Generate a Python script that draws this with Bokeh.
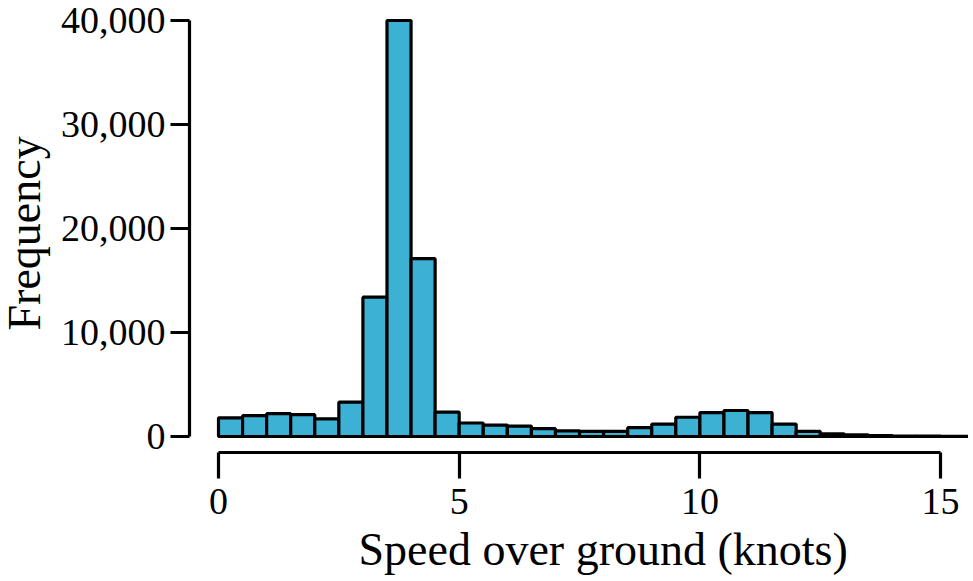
from bokeh.embed import file_html
from bokeh.models import FixedTicker, NumeralTickFormatter, Title
from bokeh.plotting import figure
from bokeh.resources import INLINE

# histogram bins, 0.5 knot wide
bin_left = [i * 0.5 for i in range(32)]
bin_right = [i * 0.5 + 0.5 for i in range(32)]
counts = [1800, 2000, 2200, 2100, 1700, 3300, 13400, 40000, 17100, 2350,
          1300, 1100, 1000, 750, 550, 500, 500, 850, 1200, 1850,
          2300, 2500, 2300, 1200, 500, 250, 150, 80, 50, 40, 20, 10]
x_ticks = [0, 5, 10, 15]
y_ticks = [0, 10000, 20000, 30000, 40000]

FONT = "Liberation Serif"
BLUE = "#3cb1d4"
LW = 3.2

# the y title box has blank padding on its outer side, so the figure hangs
# 12px off the left of the page to get the text close to the edge
p = figure(width=980, height=580, output_backend="svg", toolbar_location=None,
           x_range=(-0.6025, 15.58), y_range=(-1538, 40770),
           min_border_left=201, min_border_right=0, min_border_top=12, min_border_bottom=128,
           outline_line_color=None, tools="", margin=(0, 0, 0, -12))

p.quad(left=bin_left, right=bin_right, bottom=0, top=counts,
       fill_color=BLUE, line_color="black", line_width=LW)

p.grid.grid_line_color = None

p.xaxis.bounds = (0, 15)
p.xaxis.ticker = FixedTicker(ticks=x_ticks)
p.xaxis.major_tick_out = 26
p.xaxis.major_tick_in = 0
p.xaxis.minor_tick_line_color = None
p.xaxis.major_label_standoff = 10

p.yaxis.bounds = (0, 40000)
p.yaxis.ticker = FixedTicker(ticks=y_ticks)
p.yaxis.formatter = NumeralTickFormatter(format="0,0")
p.yaxis.major_tick_out = 19
p.yaxis.major_tick_in = 0
p.yaxis.minor_tick_line_color = None
p.yaxis.major_label_standoff = 5
p.yaxis.major_label_orientation = "horizontal"

for ax in (p.xaxis[0], p.yaxis[0]):
    ax.axis_line_color = "black"
    ax.axis_line_width = LW
    ax.major_tick_line_color = "black"
    ax.major_tick_line_width = LW
    ax.major_label_text_font = FONT
    ax.major_label_text_font_size = "38px"
    ax.major_label_text_color = "black"

# both axis titles sit off the axis centre, so they go in as titles
p.add_layout(Title(text="Speed over ground (knots)", align="left", offset=169, standoff=10,
                   text_font=FONT, text_font_size="46px", text_color="black",
                   text_font_style="normal"), "below")
p.add_layout(Title(text="Frequency", align="left", offset=122, standoff=16,
                   text_font=FONT, text_font_size="46px", text_color="black",
                   text_font_style="normal"), "left")

open("out.html", "w").write(file_html(p, INLINE))
